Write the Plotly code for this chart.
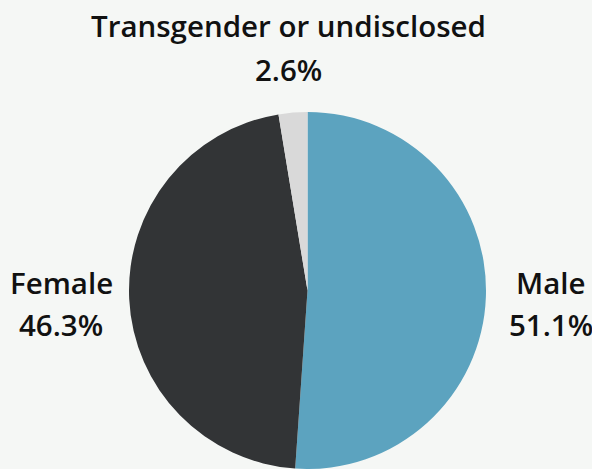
import plotly.graph_objects as go

labels = ["Male", "Female", "Transgender or undisclosed"]
values = [51.1, 46.3, 2.6]
colors = ["#5ca3bf", "#323436", "#d9d9d9"]

W, H = 592, 469
BG = "#f5f7f5"
FONT = "Open Sans"

fig = go.Figure(go.Pie(
    labels=labels,
    values=values,
    sort=False,
    direction="clockwise",
    rotation=0,
    marker=dict(colors=colors, line=dict(width=0)),
    textinfo="none",
    hoverinfo="label+percent",
    showlegend=False,
    domain=dict(x=[128.5 / W, 486.5 / W], y=[0, (H - 112) / H]),
))

# label placements (pixel centres) for name and percentage lines
label_pos = {
    "Male": (551, 282, 324),
    "Female": (61, 282, 324),
    "Transgender or undisclosed": (288.5, 26, 69.5),
}

annotations = []
for lab, val in zip(labels, values):
    x, y1, y2 = label_pos[lab]
    annotations.append(dict(text=lab, x=x / W, y=1 - y1 / H, xref="paper", yref="paper",
                            showarrow=False, xanchor="center", yanchor="middle",
                            font=dict(family=FONT, size=29.5, color="#111111", weight=600)))
    annotations.append(dict(text=f"{val:.1f}%", x=x / W, y=1 - y2 / H, xref="paper", yref="paper",
                            showarrow=False, xanchor="center", yanchor="middle",
                            font=dict(family=FONT, size=29.5, color="#111111", weight=600)))

fig.update_layout(
    width=W, height=H,
    margin=dict(l=0, r=0, t=0, b=0),
    paper_bgcolor=BG, plot_bgcolor=BG,
    annotations=annotations,
)

fig.write_html(
    "out.html",
    config={"displayModeBar": False},
    post_script="document.body.style.margin='0';document.body.style.overflow='hidden';",
)
